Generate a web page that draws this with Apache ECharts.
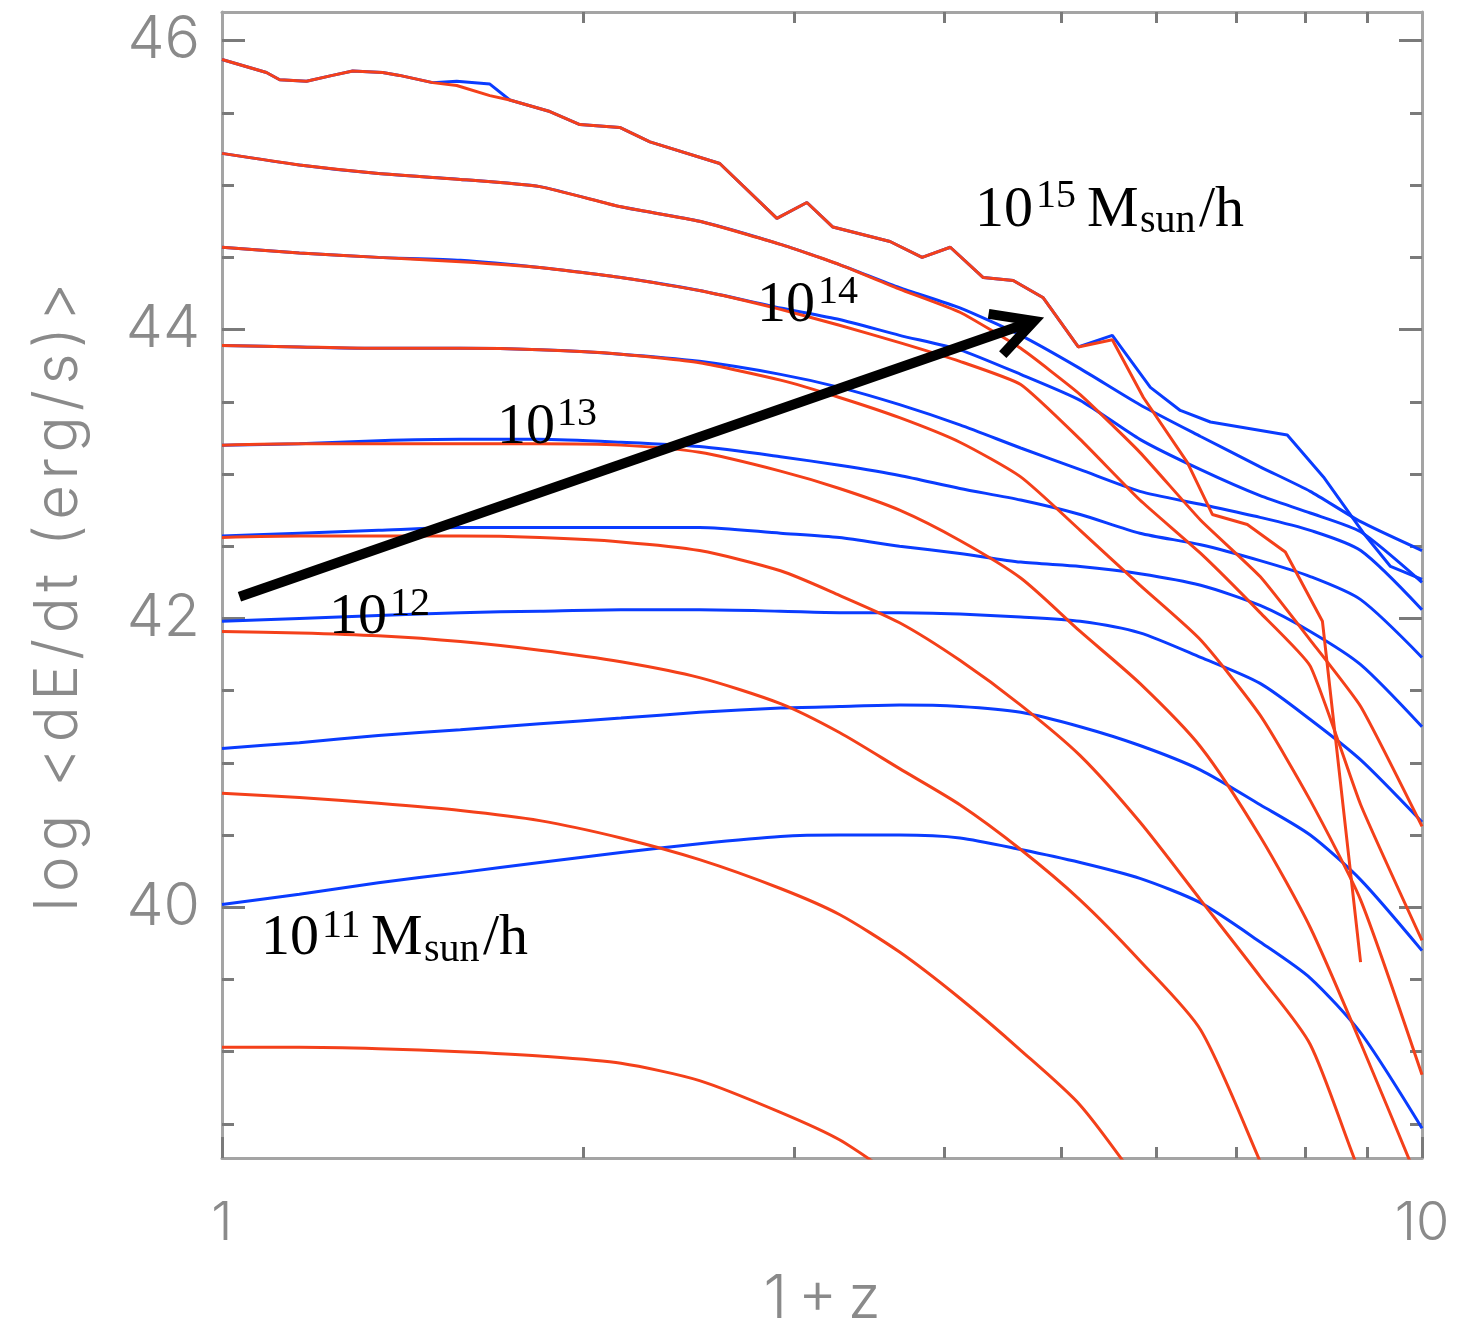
<!DOCTYPE html>
<html>
<head>
<meta charset="utf-8">
<script src="https://cdn.jsdelivr.net/npm/echarts@6/dist/echarts.min.js"></script>
<style>
  html, body { margin: 0; padding: 0; background: #ffffff; }
  #chart { width: 1457px; height: 1343px; }
</style>
</head>
<body>
<div id="chart"></div>
<script>
// ---------------------------------------------------------------
// Mean energy injection rate log <dE/dt> (erg/s) versus 1+z,
// for halo masses 10^11 ... 10^15 Msun/h in steps of 0.5 dex.
// Blue and red curves are the two model variants for each mass.
// ---------------------------------------------------------------

// 1+z sampling grid shared by the smooth curves
const zGrid = [1.00, 1.16, 1.35, 1.58, 1.84, 2.15, 2.50, 2.92, 3.27, 3.67, 4.12, 4.63, 5.19, 5.82, 6.54, 7.33, 8.07, 8.89, 10.0];

// log <dE/dt> on zGrid (a curve may stop early once it leaves the plot)
const blue145 = [45.22, 45.14, 45.08, 45.04, 44.99, 44.85, 44.75, 44.59, 44.45, 44.29, 44.15, 43.96, 43.73, 43.48, 43.26, 43.05, 42.88, 42.67, 42.47];
const red145  = [45.22, 45.14, 45.08, 45.04, 44.99, 44.85, 44.75, 44.59, 44.45, 44.28, 44.12, 43.87, 43.55, 43.15, 42.68, 42.29, 41.85, 41.39, 40.56];
const blue14  = [44.57, 44.53, 44.50, 44.48, 44.43, 44.36, 44.27, 44.15, 44.07, 43.96, 43.86, 43.69, 43.51, 43.24, 43.03, 42.85, 42.73, 42.60, 42.25];
const red14   = [44.57, 44.53, 44.50, 44.47, 44.43, 44.36, 44.27, 44.14, 44.03, 43.91, 43.78, 43.62, 43.24, 42.82, 42.45, 42.04, 41.67, 40.71, 39.77];
const blue135 = [43.89, 43.88, 43.87, 43.87, 43.86, 43.83, 43.78, 43.69, 43.60, 43.48, 43.34, 43.18, 43.03, 42.88, 42.79, 42.70, 42.61, 42.47, 42.06];
const red135  = [43.89, 43.88, 43.87, 43.87, 43.86, 43.83, 43.77, 43.65, 43.53, 43.39, 43.22, 42.98, 42.61, 42.23, 41.85, 41.33, 40.74, 40.05, 38.84];
const blue13  = [43.20, 43.21, 43.23, 43.24, 43.24, 43.22, 43.19, 43.12, 43.06, 42.99, 42.90, 42.82, 42.72, 42.59, 42.51, 42.40, 42.29, 42.13, 41.73];
const red13   = [43.20, 43.21, 43.21, 43.21, 43.21, 43.20, 43.15, 43.02, 42.90, 42.75, 42.54, 42.28, 41.91, 41.55, 41.11, 40.49, 39.86, 39.06, 38.04];
const blue125 = [42.57, 42.59, 42.61, 42.63, 42.63, 42.63, 42.63, 42.59, 42.56, 42.50, 42.45, 42.39, 42.36, 42.31, 42.23, 42.09, 41.91, 41.68, 41.25];
const red125  = [42.56, 42.57, 42.57, 42.57, 42.56, 42.53, 42.47, 42.33, 42.16, 41.97, 41.71, 41.40, 41.05, 40.59, 40.05, 39.52, 39.05, 38.15, 37.28];
const blue12  = [41.98, 42.00, 42.02, 42.04, 42.05, 42.06, 42.06, 42.05, 42.04, 42.04, 42.03, 42.01, 41.98, 41.90, 41.73, 41.55, 41.30, 41.02, 40.59];
const red12   = [41.91, 41.90, 41.88, 41.84, 41.78, 41.70, 41.59, 41.41, 41.21, 40.96, 40.71, 40.40, 40.05, 39.63, 39.15, 38.24, 37.42];
const blue115 = [41.10, 41.14, 41.19, 41.23, 41.27, 41.31, 41.35, 41.38, 41.39, 41.40, 41.39, 41.35, 41.25, 41.12, 40.95, 40.71, 40.50, 40.19, 39.70];
const red115  = [40.79, 40.76, 40.72, 40.67, 40.60, 40.48, 40.33, 40.13, 39.95, 39.69, 39.37, 39.01, 38.63, 38.08];
const blue11  = [40.02, 40.09, 40.17, 40.24, 40.31, 40.38, 40.44, 40.49, 40.50, 40.50, 40.48, 40.40, 40.31, 40.20, 40.03, 39.76, 39.51, 39.13, 38.47];
const red11   = [39.03, 39.03, 39.02, 39.00, 38.97, 38.92, 38.80, 38.58, 38.39, 38.11];

// most massive bin, sampled at its own (noisier) snapshot list: [1+z, log <dE/dt>]
const blue15 = [[1.000,45.87],[1.089,45.78],[1.117,45.73],[1.176,45.72],[1.236,45.76],[1.285,45.79],[1.361,45.78],[1.406,45.76],[1.498,45.71],[1.569,45.72],[1.672,45.70],[1.737,45.59],[1.876,45.51],[1.987,45.42],[2.145,45.40],[2.273,45.30],[2.599,45.15],[2.900,44.77],[3.072,44.88],[3.229,44.71],[3.603,44.61],[3.832,44.50],[4.045,44.57],[4.309,44.36],[4.564,44.34],[4.835,44.22],[5.171,43.88],[5.520,43.96],[5.938,43.60],[6.289,43.44],[6.663,43.36],[7.722,43.27],[8.277,42.98],[8.939,42.59],[9.414,42.36],[10.0,42.27]];
const red15  = [[1.000,45.87],[1.089,45.78],[1.117,45.73],[1.176,45.72],[1.236,45.76],[1.285,45.79],[1.361,45.78],[1.406,45.76],[1.498,45.71],[1.569,45.69],[1.672,45.62],[1.737,45.59],[1.876,45.51],[1.987,45.42],[2.145,45.40],[2.273,45.30],[2.599,45.15],[2.900,44.77],[3.072,44.88],[3.229,44.71],[3.603,44.61],[3.832,44.50],[4.045,44.57],[4.309,44.36],[4.564,44.34],[4.835,44.22],[5.171,43.88],[5.520,43.93],[5.859,43.53],[6.374,43.08],[6.688,42.72],[7.152,42.65],[7.693,42.46],[8.261,41.98],[8.888,39.62]];

// axis ticks
const yLabelValues = [40, 42, 44, 46];
const yMinorValues = [38.5, 39, 39.5, 40.5, 41, 41.5, 42.5, 43, 43.5, 44.5, 45, 45.5];
const xLabelValues = [1, 10];
const xMinorValues = [2, 3, 4, 5, 6, 7, 8, 9];

// trend arrow, [1+z, log <dE/dt>] of tail and tip
const arrowTail = [1.034, 42.15];
const arrowTip  = [4.75, 44.06];

// ---------------------------------------------------------------
const Y_MIN = 38.264, Y_MAX = 46.199;
const BLUE = '#0a3cff';
const RED = '#f4401a';
const FRAME = '#a4a4a4';
const TICK = '#7a7a7a';
const TEXT_GRAY = '#8a8a8a';
const SANS = 'Inter';
const SERIF = '"Liberation Serif", "Times New Roman", serif';

// widen the letter spacing of the axis titles a little
const spaced = (s, gap) => s.split('').join(gap);

const onGrid = vals => vals.map((v, i) => [zGrid[i], v]);

// [colour, data, smoothness]
const curves = [
  ['blue', blue15, 0], ['blue', onGrid(blue145), 0.2], ['blue', onGrid(blue14), 0.2], ['blue', onGrid(blue135), 0.25],
  ['blue', onGrid(blue13), 0.25], ['blue', onGrid(blue125), 0.25], ['blue', onGrid(blue12), 0.25], ['blue', onGrid(blue115), 0.25],
  ['blue', onGrid(blue11), 0.25],
  ['red', red15, 0], ['red', onGrid(red145), 0.15], ['red', onGrid(red14), 0.15], ['red', onGrid(red135), 0.2],
  ['red', onGrid(red13), 0.25], ['red', onGrid(red125), 0.25], ['red', onGrid(red12), 0.25], ['red', onGrid(red115), 0.25],
  ['red', onGrid(red11), 0.25]
];

const series = curves.map(([c, data, sm]) => ({
  type: 'line',
  xAxisIndex: 0,
  yAxisIndex: 0,
  data: data,
  symbol: 'none',
  smooth: sm,
  clip: true,
  lineStyle: { color: c === 'blue' ? BLUE : RED, width: 3 },
  emphasis: { disabled: true },
  z: c === 'blue' ? 2 : 3
}));

const frameLine = { color: FRAME, width: 3 };
const tickLine = { color: TICK, width: 3 };
const axisText = { fontFamily: SANS, fontWeight: 300, color: TEXT_GRAY };
const logSpan = { type: 'value', min: 0, max: 1, splitLine: { show: false } };
const ySpan = { type: 'value', min: Y_MIN, max: Y_MAX, splitLine: { show: false } };

const option = {
  animation: false,
  backgroundColor: '#ffffff',
  grid: { left: 222, top: 12, width: 1200, height: 1146 },
  xAxis: [
    // data axis (log10 scale)
    { type: 'log', logBase: 10, min: 1, max: 10, show: false },
    // bottom frame: decade ticks and labels
    Object.assign({}, logSpan, {
      position: 'bottom',
      axisLine: { show: true, onZero: false, lineStyle: frameLine },
      axisTick: { show: true, inside: true, length: 21, customValues: xLabelValues.map(Math.log10), lineStyle: tickLine },
      axisLabel: Object.assign({ show: true, margin: 39, fontSize: 54,
        customValues: xLabelValues.map(Math.log10),
        formatter: v => String(Math.round(Math.pow(10, v))) }, axisText),
      name: spaced('1+z', '\u2009'), nameLocation: 'middle', nameGap: 112,
      nameTextStyle: Object.assign({ fontSize: 60 }, axisText)
    }),
    // bottom frame: minor ticks at 2..9
    Object.assign({}, logSpan, {
      position: 'bottom',
      axisLine: { show: false, onZero: false },
      axisTick: { show: true, inside: true, length: 11, customValues: xMinorValues.map(Math.log10), lineStyle: tickLine },
      axisLabel: { show: false }
    }),
    // top frame
    Object.assign({}, logSpan, {
      position: 'top',
      axisLine: { show: true, onZero: false, lineStyle: frameLine },
      axisTick: { show: true, inside: true, length: 11, customValues: xMinorValues.map(Math.log10), lineStyle: tickLine },
      axisLabel: { show: false }
    })
  ],
  yAxis: [
    Object.assign({}, ySpan, {
      position: 'left',
      axisLine: { show: true, onZero: false, lineStyle: frameLine },
      axisTick: { show: true, inside: true, length: 23, customValues: yLabelValues, lineStyle: tickLine },
      axisLabel: Object.assign({ show: true, margin: 22, fontSize: 59, customValues: yLabelValues }, axisText),
      name: spaced('log <dE/dt (erg/s)>', '\u200A'), nameLocation: 'middle', nameRotate: 90, nameGap: 133,
      nameTextStyle: Object.assign({ fontSize: 60, padding: [0, 24, 0, 0] }, axisText)
    }),
    Object.assign({}, ySpan, {
      position: 'left',
      axisLine: { show: false, onZero: false },
      axisTick: { show: true, inside: true, length: 12, customValues: yMinorValues, lineStyle: tickLine },
      axisLabel: { show: false }
    }),
    Object.assign({}, ySpan, {
      position: 'right',
      axisLine: { show: true, onZero: false, lineStyle: frameLine },
      axisTick: { show: true, inside: true, length: 23, customValues: yLabelValues, lineStyle: tickLine },
      axisLabel: { show: false }
    }),
    Object.assign({}, ySpan, {
      position: 'right',
      axisLine: { show: false, onZero: false },
      axisTick: { show: true, inside: true, length: 12, customValues: yMinorValues, lineStyle: tickLine },
      axisLabel: { show: false }
    })
  ],
  series: series
};

const chart = echarts.init(document.getElementById('chart'), null, { renderer: 'canvas', width: 1457, height: 1343 });
chart.setOption(option);

// ---- annotations: mass labels and the trend arrow ----
const BIG = 58, SMALL = 40;
// [text, left, baseline, size]
const labelPieces = [
  ['10', 975, 230, BIG], ['15', 1036, 210, SMALL], ['M', 1087, 230, BIG], ['sun', 1140, 235, SMALL], ['/h', 1199, 230, BIG],
  ['10', 757, 325, BIG], ['14', 818, 306, SMALL],
  ['10', 497, 447, BIG], ['13', 557, 428, SMALL],
  ['10', 329, 637, BIG], ['12', 390, 618, SMALL],
  ['10', 261, 958, BIG], ['11', 322, 940, SMALL], ['M', 371, 958, BIG], ['sun', 424, 964, SMALL], ['/h', 483, 958, BIG]
];

const graphics = labelPieces.map(([t, left, base, size]) => ({
  type: 'text',
  silent: true,
  x: left,
  y: base - 0.34 * size,
  z: 10,
  style: {
    text: t,
    fontSize: size,
    fontFamily: SERIF,
    fill: '#000000',
    textFill: '#000000',
    align: 'left',
    textAlign: 'left',
    verticalAlign: 'middle',
    textVerticalAlign: 'middle'
  }
}));

const pTail = chart.convertToPixel({ xAxisIndex: 0, yAxisIndex: 0 }, arrowTail);
const pTip = chart.convertToPixel({ xAxisIndex: 0, yAxisIndex: 0 }, arrowTip);
const back = Math.atan2(pTail[1] - pTip[1], pTail[0] - pTip[0]);
const headLen = 46, spread = 28 * Math.PI / 180;
const h1 = [pTip[0] + headLen * Math.cos(back + spread), pTip[1] + headLen * Math.sin(back + spread)];
const h2 = [pTip[0] + headLen * Math.cos(back - spread), pTip[1] + headLen * Math.sin(back - spread)];

graphics.push({
  type: 'polyline', silent: true, z: 9,
  shape: { points: [pTail, pTip] },
  style: { stroke: '#000000', lineWidth: 10, fill: null, lineCap: 'butt' }
});
graphics.push({
  type: 'polyline', silent: true, z: 9,
  shape: { points: [h1, pTip, h2] },
  style: { stroke: '#000000', lineWidth: 10, fill: null, lineJoin: 'miter', lineCap: 'butt' }
});

chart.setOption({ graphic: graphics });
</script>
</body>
</html>
